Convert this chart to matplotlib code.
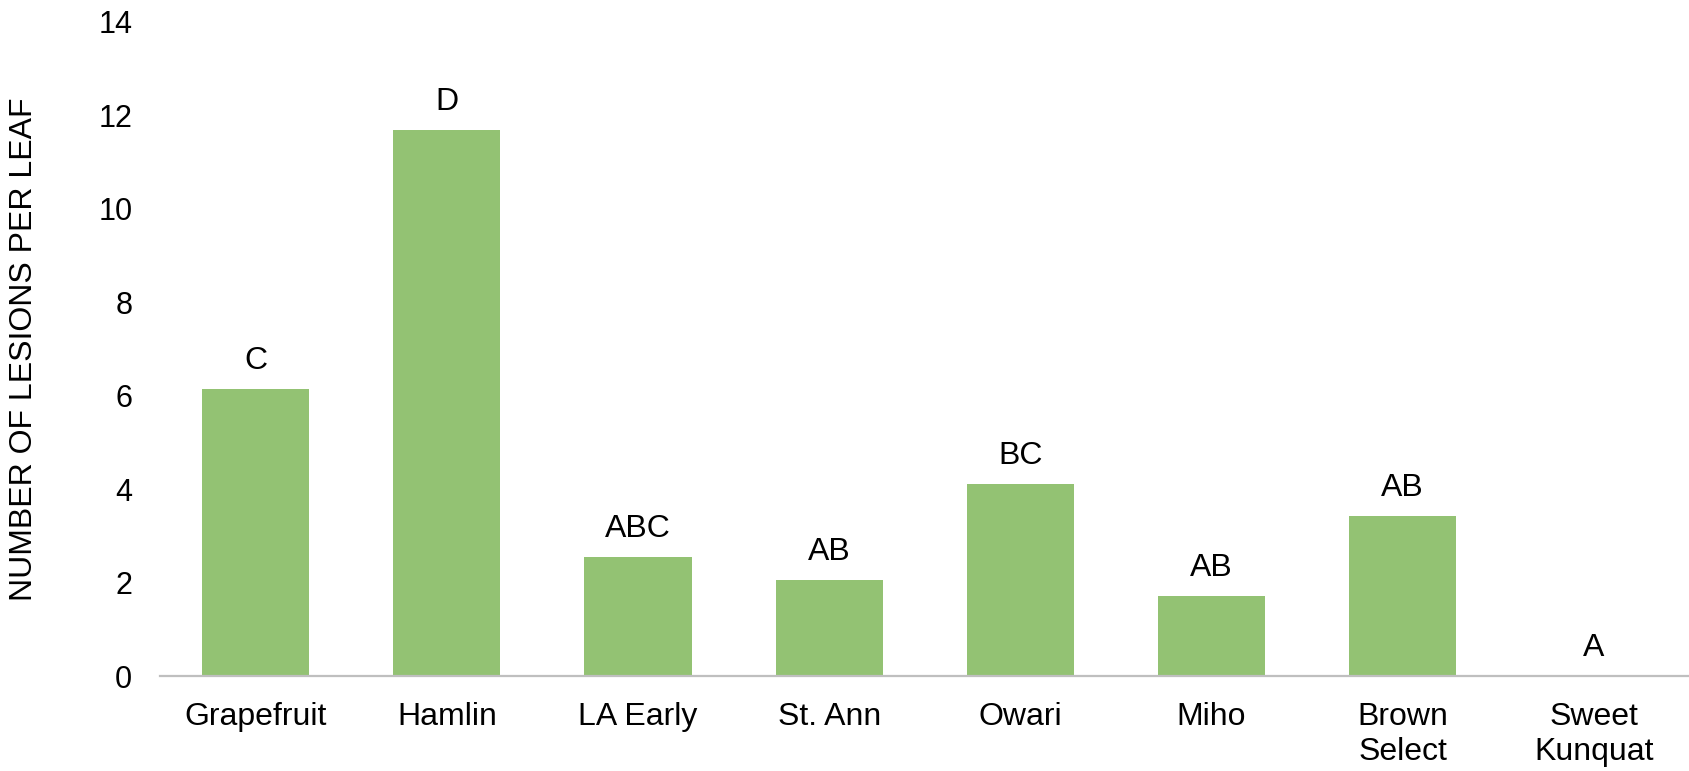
import matplotlib
matplotlib.use('Agg')
from matplotlib import pyplot as plt

# data
cultivars = ['Grapefruit', 'Hamlin', 'LA Early', 'St. Ann', 'Owari',
             'Miho', 'Brown\nSelect', 'Sweet\nKunquat']
lesions = [6.14, 11.68, 2.55, 2.05, 4.10, 1.72, 3.43, 0.0]
groups = ['C', 'D', 'ABC', 'AB', 'BC', 'AB', 'AB', 'A']
y_ticks = [0, 2, 4, 6, 8, 10, 12, 14]

plt.rcParams['font.family'] = ['Liberation Sans', 'DejaVu Sans']

fig = plt.figure(figsize=(16.9, 7.71), dpi=100)
ax = fig.add_axes([0.0947, 0.123, 0.905, 0.849])

x = range(len(cultivars))
bars = ax.bar(x, lesions, width=0.56, color='#93C273')

# significance letters above bars
for xi, val, grp in zip(x, lesions, groups):
    ax.annotate(grp, (xi, val), xytext=(0, 14.5), textcoords='offset points',
                ha='center', va='baseline', fontsize=23)

ax.set_xlim(-0.5, len(cultivars) - 0.5)
ax.set_ylim(0, 14)
ax.set_yticks(y_ticks)
ax.set_xticks(list(x))
ax.set_xticklabels(cultivars, fontsize=23, linespacing=1.22)
ax.tick_params(axis='y', labelsize=22, length=0, pad=20)
ax.tick_params(axis='x', length=0, pad=18.5)

for side in ['top', 'right', 'left']:
    ax.spines[side].set_visible(False)
ax.spines['bottom'].set_color('#BFBFBF')
ax.spines['bottom'].set_linewidth(1.6)

ax.set_ylabel('NUMBER OF LESIONS PER LEAF', fontsize=23)
ax.yaxis.set_label_coords(-0.079, 0.5)

fig.savefig('out.png', dpi=100)
